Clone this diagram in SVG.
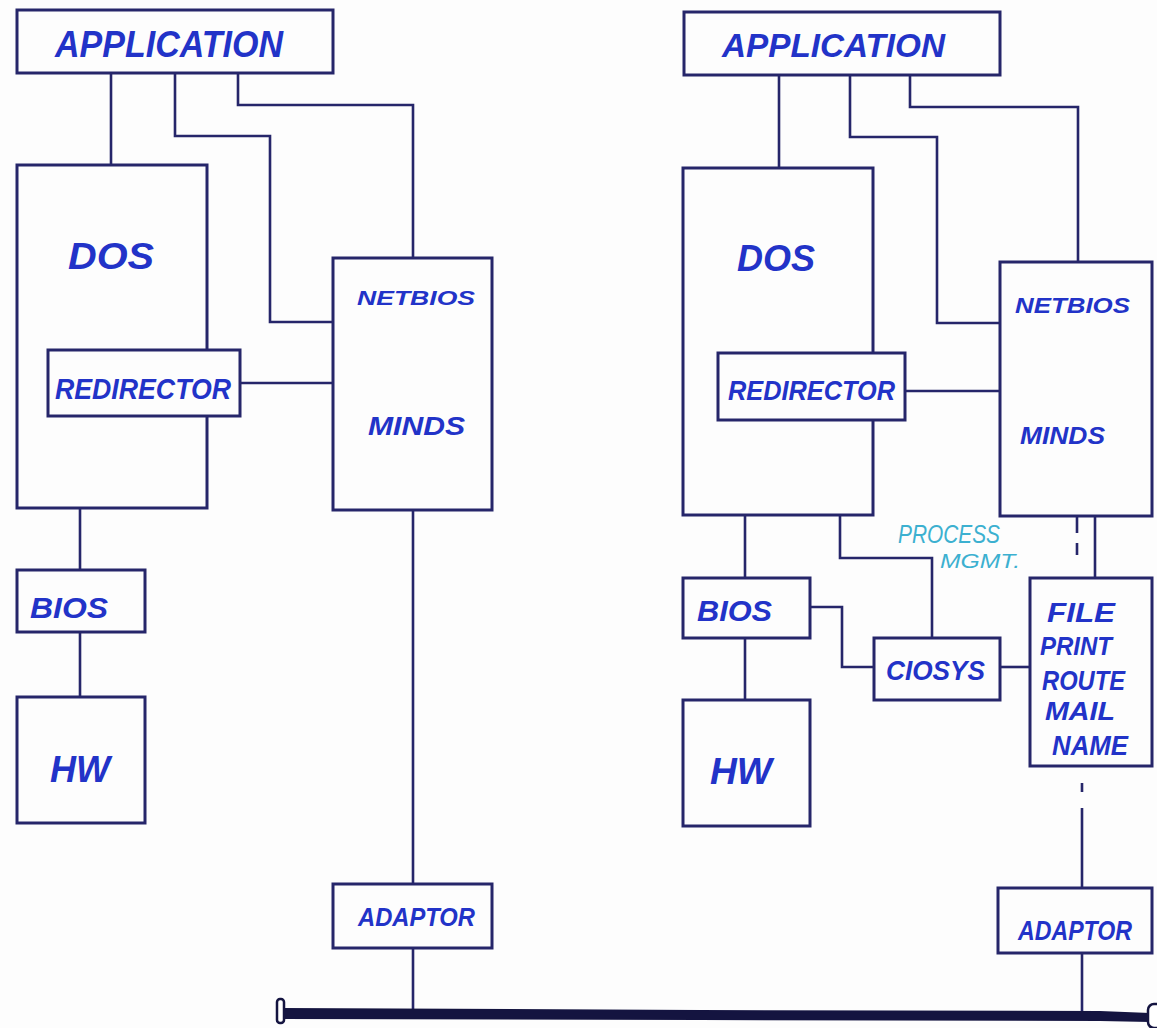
<svg xmlns="http://www.w3.org/2000/svg" width="1157" height="1028" viewBox="0 0 1157 1028">
<style>
.box{fill:none;stroke:#26266a;stroke-width:3}
.wbox{fill:#fdfdfd;stroke:#26266a;stroke-width:3}
.ln{fill:none;stroke:#26266a;stroke-width:2.6}
.t{font-family:"Liberation Sans",Arial,sans-serif;font-style:italic;font-weight:bold;fill:#2233c8}
.pm{font-family:"Liberation Sans",Arial,sans-serif;font-style:italic;fill:#3cb0d0}
</style>
<rect width="1157" height="1028" fill="#fdfdfd"/>
<g id="connectors">
<path class="ln" d="M111 73V165"/>
<path class="ln" d="M175 73V136H270V322H333"/>
<path class="ln" d="M238 73V105H413V258"/>
<path class="ln" d="M240 383H333"/>
<path class="ln" d="M80 508V570"/>
<path class="ln" d="M80 632V697"/>
<path class="ln" d="M413 510V884"/>
<path class="ln" d="M413 948V1012"/>
<path class="ln" d="M779 75V168"/>
<path class="ln" d="M850 75V137H937V323H1000"/>
<path class="ln" d="M910 75V107H1078V262"/>
<path class="ln" d="M905 391H1000"/>
<path class="ln" d="M745 515V578"/>
<path class="ln" d="M840 515V558H932V638"/>
<path class="ln" d="M745 638V700"/>
<path class="ln" d="M810 607H842V667H874"/>
<path class="ln" d="M1000 667H1030"/>
<path class="ln" d="M1077 516V533M1077 543V555"/>
<path class="ln" d="M1095 516V578"/>
<path class="ln" d="M1082 783V792M1082 808V888"/>
<path class="ln" d="M1082 953V1012"/>
<path d="M283 1008L700 1010L1100 1011L1150 1013L1150 1022L1100 1021L700 1020L283 1019Z" fill="#141440"/>
<rect x="277" y="999" width="7" height="24" rx="3" fill="#fff" stroke="#141440" stroke-width="2.5"/>
<rect x="1148" y="1004" width="14" height="24" rx="6" fill="#fff" stroke="#141440" stroke-width="2.5"/>
</g>
<g id="app-l"><rect class="box" x="17" y="10" width="316" height="63"/><text class="t" x="55" y="57" font-size="36" textLength="228" lengthAdjust="spacingAndGlyphs">APPLICATION</text></g>
<g id="dos-l"><rect class="box" x="17" y="165" width="190" height="343"/><text class="t" x="68" y="269" font-size="36" textLength="86" lengthAdjust="spacingAndGlyphs">DOS</text></g>
<g id="redir-l"><rect class="wbox" x="48" y="350" width="192" height="66"/><text class="t" x="55" y="399" font-size="30" textLength="176" lengthAdjust="spacingAndGlyphs">REDIRECTOR</text></g>
<g id="netbios-l"><rect class="box" x="333" y="258" width="159" height="252"/><text class="t" x="357" y="305" font-size="20" textLength="118" lengthAdjust="spacingAndGlyphs">NETBIOS</text><text class="t" x="368" y="435" font-size="26" textLength="97" lengthAdjust="spacingAndGlyphs">MINDS</text></g>
<g id="bios-l"><rect class="box" x="17" y="570" width="128" height="62"/><text class="t" x="30" y="618" font-size="30" textLength="78" lengthAdjust="spacingAndGlyphs">BIOS</text></g>
<g id="hw-l"><rect class="box" x="17" y="697" width="128" height="126"/><text class="t" x="50" y="782" font-size="36" textLength="60" lengthAdjust="spacingAndGlyphs">HW</text></g>
<g id="adaptor-l"><rect class="box" x="333" y="884" width="159" height="64"/><text class="t" x="358" y="926" font-size="26" textLength="117" lengthAdjust="spacingAndGlyphs">ADAPTOR</text></g>
<g id="app-r"><rect class="box" x="684" y="12" width="316" height="63"/><text class="t" x="722" y="57" font-size="34" textLength="223" lengthAdjust="spacingAndGlyphs">APPLICATION</text></g>
<g id="dos-r"><rect class="box" x="683" y="168" width="190" height="347"/><text class="t" x="737" y="271" font-size="36" textLength="78" lengthAdjust="spacingAndGlyphs">DOS</text></g>
<g id="redir-r"><rect class="wbox" x="718" y="353" width="187" height="67"/><text class="t" x="728" y="400" font-size="28" textLength="167" lengthAdjust="spacingAndGlyphs">REDIRECTOR</text></g>
<g id="netbios-r"><rect class="box" x="1000" y="262" width="152" height="254"/><text class="t" x="1015" y="313" font-size="22" textLength="115" lengthAdjust="spacingAndGlyphs">NETBIOS</text><text class="t" x="1020" y="444" font-size="24" textLength="85" lengthAdjust="spacingAndGlyphs">MINDS</text></g>
<g id="bios-r"><rect class="box" x="683" y="578" width="127" height="60"/><text class="t" x="697" y="621" font-size="30" textLength="75" lengthAdjust="spacingAndGlyphs">BIOS</text></g>
<g id="hw-r"><rect class="box" x="683" y="700" width="127" height="126"/><text class="t" x="710" y="784" font-size="36" textLength="62" lengthAdjust="spacingAndGlyphs">HW</text></g>
<g id="ciosys"><rect class="box" x="874" y="638" width="126" height="62"/><text class="t" x="886" y="680" font-size="28" textLength="99" lengthAdjust="spacingAndGlyphs">CIOSYS</text></g>
<g id="services"><rect class="box" x="1030" y="578" width="122" height="188"/>
<text class="t" x="1047" y="622" font-size="28" textLength="68" lengthAdjust="spacingAndGlyphs">FILE</text>
<text class="t" x="1040" y="655" font-size="26" textLength="72" lengthAdjust="spacingAndGlyphs">PRINT</text>
<text class="t" x="1042" y="690" font-size="28" textLength="83" lengthAdjust="spacingAndGlyphs">ROUTE</text>
<text class="t" x="1045" y="720" font-size="26" textLength="70" lengthAdjust="spacingAndGlyphs">MAIL</text>
<text class="t" x="1052" y="755" font-size="28" textLength="76" lengthAdjust="spacingAndGlyphs">NAME</text></g>
<g id="adaptor-r"><rect class="box" x="998" y="888" width="154" height="65"/><text class="t" x="1018" y="940" font-size="28" textLength="114" lengthAdjust="spacingAndGlyphs">ADAPTOR</text></g>
<g id="process-mgmt"><text class="pm" x="898" y="543" font-size="26" textLength="102" lengthAdjust="spacingAndGlyphs">PROCESS</text><text class="pm" x="940" y="568" font-size="20" textLength="80" lengthAdjust="spacingAndGlyphs">MGMT.</text></g>
</svg>
